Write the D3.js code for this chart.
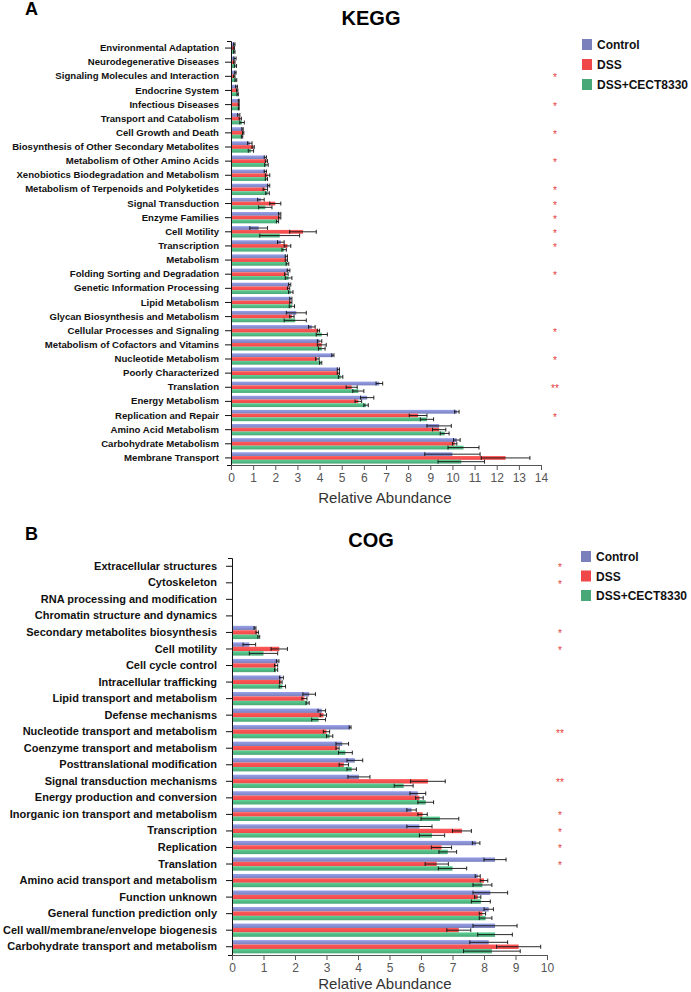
<!DOCTYPE html>
<html>
<head>
<meta charset="utf-8">
<script src="https://cdn.jsdelivr.net/npm/d3@7"></script>
<style>
  body { margin: 0; background: #fff; }
  text { font-family: Arial, "Liberation Sans", sans-serif; }
</style>
</head>
<body>
<svg id="chart" width="691" height="992"></svg>
<script>
// ---- KEGG data ----
const keggCategories = [
  "Environmental Adaptation", "Neurodegenerative Diseases", "Signaling Molecules and Interaction",
  "Endocrine System", "Infectious Diseases", "Transport and Catabolism", "Cell Growth and Death",
  "Biosynthesis of Other Secondary Metabolites", "Metabolism of Other Amino Acids",
  "Xenobiotics Biodegradation and Metabolism", "Metabolism of Terpenoids and Polyketides",
  "Signal Transduction", "Enzyme Families", "Cell Motility", "Transcription", "Metabolism",
  "Folding Sorting and Degradation", "Genetic Information Processing", "Lipid Metabolism",
  "Glycan Biosynthesis and Metabolism", "Cellular Processes and Signaling",
  "Metabolism of Cofactors and Vitamins", "Nucleotide Metabolism", "Poorly Characterized",
  "Translation", "Energy Metabolism", "Replication and Repair", "Amino Acid Metabolism",
  "Carbohydrate Metabolism", "Membrane Transport"
];
const keggControl = [0.15, 0.18, 0.2, 0.25, 0.35, 0.35, 0.52, 0.85, 1.55, 1.55, 1.7, 1.35, 2.2, 1.25, 2.25,
  2.5, 2.6, 2.65, 2.7, 2.95, 3.65, 4.0, 4.6, 4.85, 6.7, 6.15, 10.2, 9.4, 10.2, 10.0];
const keggControlErr = [0.03, 0.05, 0.03, 0.04, 0.02, 0.05, 0.03, 0.1, 0.05, 0.05, 0.05, 0.15, 0.05, 0.4, 0.15,
  0.05, 0.06, 0.05, 0.05, 0.45, 0.15, 0.1, 0.05, 0.05, 0.15, 0.3, 0.1, 0.55, 0.15, 1.25];
const keggDSS = [0.13, 0.15, 0.15, 0.28, 0.35, 0.42, 0.55, 1.0, 1.6, 1.65, 1.55, 2.0, 2.2, 3.25, 2.55,
  2.5, 2.5, 2.6, 2.7, 2.75, 3.95, 4.1, 3.9, 4.85, 5.45, 5.75, 8.45, 9.4, 10.1, 12.4];
const keggDSSErr = [0.03, 0.03, 0.03, 0.03, 0.02, 0.05, 0.03, 0.05, 0.05, 0.1, 0.1, 0.25, 0.05, 0.6, 0.15,
  0.05, 0.08, 0.05, 0.05, 0.1, 0.05, 0.2, 0.08, 0.05, 0.25, 0.15, 0.4, 0.3, 0.1, 1.1];
const keggCECT = [0.15, 0.2, 0.22, 0.3, 0.35, 0.5, 0.5, 0.9, 1.6, 1.6, 1.65, 1.55, 2.1, 2.2, 2.4,
  2.55, 2.6, 2.7, 2.75, 2.9, 4.1, 4.1, 4.05, 4.95, 5.75, 6.1, 8.85, 9.65, 10.5, 10.4];
const keggCECTErr = [0.03, 0.05, 0.04, 0.03, 0.02, 0.1, 0.03, 0.12, 0.08, 0.05, 0.08, 0.3, 0.05, 0.9, 0.1,
  0.06, 0.15, 0.1, 0.12, 0.5, 0.25, 0.15, 0.05, 0.1, 0.25, 0.1, 0.3, 0.2, 0.7, 1.05];
const keggSig = ["", "", "*", "", "*", "", "*", "", "*", "", "*", "*", "*", "*", "*",
  "", "*", "", "", "", "*", "", "*", "", "**", "", "*", "", "", ""];
const keggTicks = d3.range(0, 15);

// ---- COG data ----
const cogCategories = [
  "Extracellular structures", "Cytoskeleton", "RNA processing and modification",
  "Chromatin structure and dynamics", "Secondary metabolites biosynthesis", "Cell motility",
  "Cell cycle control", "Intracellular trafficking", "Lipid transport and metabolism",
  "Defense mechanisms", "Nucleotide transport and metabolism", "Coenzyme transport and metabolism",
  "Posttranslational modification", "Signal transduction mechanisms", "Energy production and conversion",
  "Inorganic ion transport and metabolism", "Transcription", "Replication", "Translation",
  "Amino acid transport and metabolism", "Function unknown", "General function prediction only",
  "Cell wall/membrane/envelope biogenesis", "Carbohydrate transport and metabolism"
];
const cogControl = [0.01, 0.01, 0.01, 0.01, 0.73, 0.55, 1.45, 1.57, 2.45, 2.85, 3.75, 3.5,
  3.9, 4.03, 5.9, 5.7, 5.95, 7.75, 8.35, 7.8, 8.2, 8.15, 8.35, 8.15];
const cogControlErr = [0, 0, 0, 0, 0.03, 0.2, 0.04, 0.06, 0.2, 0.12, 0.03, 0.2,
  0.25, 0.35, 0.25, 0.15, 0.4, 0.12, 0.35, 0.08, 0.55, 0.15, 0.7, 0.6];
const cogDSS = [0.01, 0.01, 0.01, 0.01, 0.8, 1.5, 1.4, 1.55, 2.3, 2.9, 3.0, 3.35,
  3.55, 6.22, 5.95, 6.05, 7.3, 6.65, 6.5, 8.0, 7.8, 7.95, 7.2, 9.1];
const cogDSSErr = [0, 0, 0, 0, 0.04, 0.26, 0.05, 0.04, 0.08, 0.1, 0.1, 0.05,
  0.15, 0.55, 0.12, 0.15, 0.3, 0.32, 0.37, 0.12, 0.1, 0.1, 0.38, 0.7];
const cogCECT = [0.01, 0.01, 0.01, 0.01, 0.85, 1.0, 1.4, 1.6, 2.4, 2.75, 3.1, 3.6,
  3.8, 5.45, 6.15, 6.6, 6.35, 6.85, 7.0, 7.95, 7.9, 8.05, 8.35, 8.25];
const cogCECTErr = [0, 0, 0, 0, 0.03, 0.45, 0.05, 0.1, 0.05, 0.22, 0.1, 0.22,
  0.15, 0.3, 0.25, 0.6, 0.4, 0.28, 0.45, 0.3, 0.3, 0.2, 0.55, 0.9];
const cogSig = ["*", "*", "", "", "*", "*", "", "", "", "", "**", "", "", "**", "",
  "*", "*", "*", "*", "", "", "", "", ""];
const cogTicks = d3.range(0, 11);

const groups = ["Control", "DSS", "DSS+CECT8330"];
const colors = ["#7a80bc", "#f04848", "#49a877"];

const svg = d3.select("#chart");

// light highlight on each bar colour
const defs = svg.append("defs");
colors.forEach((c, i) => {
  const g = defs.append("linearGradient")
    .attr("id", "grad" + i)
    .attr("x1", 0).attr("y1", 0).attr("x2", 0).attr("y2", 1);
  g.append("stop").attr("offset", "0%").attr("stop-color", d3.color(c).brighter(0.6));
  g.append("stop").attr("offset", "100%").attr("stop-color", c);
});

function drawPanel(opt) {
  const x = d3.scaleLinear().domain([0, opt.max]).range([opt.x0, opt.x1]);
  const y = d3.scaleBand().domain(opt.categories).range([opt.y0, opt.y1]).paddingInner(0.2).paddingOuter(0.1);
  const sub = d3.scaleBand().domain(groups).range([0, y.bandwidth()]);
  const g = svg.append("g");

  const series = [
    { vals: opt.control, errs: opt.controlErr },
    { vals: opt.dss, errs: opt.dssErr },
    { vals: opt.cect, errs: opt.cectErr }
  ];

  series.forEach((s, si) => {
    const rows = opt.categories.map((c, i) => ({ cat: c, v: s.vals[i], e: s.errs[i] }));
    const yy = d => y(d.cat) + sub(groups[si]);

    g.append("g").selectAll("rect")
      .data(rows)
      .join("rect")
      .attr("x", x(0))
      .attr("y", yy)
      .attr("width", d => x(d.v) - x(0))
      .attr("height", sub.bandwidth())
      .attr("fill", "url(#grad" + si + ")");

    const eb = g.append("g")
      .attr("stroke", "#111")
      .attr("stroke-width", 0.9)
      .selectAll("g")
      .data(rows.filter(d => d.e > 0))
      .join("g");
    const mid = d => yy(d) + sub.bandwidth() / 2;
    eb.append("line")
      .attr("x1", d => x(d.v - d.e)).attr("x2", d => x(d.v + d.e))
      .attr("y1", mid).attr("y2", mid);
    [-1, 1].forEach(sgn => {
      eb.append("line")
        .attr("x1", d => x(d.v + sgn * d.e)).attr("x2", d => x(d.v + sgn * d.e))
        .attr("y1", d => mid(d) - 2).attr("y2", d => mid(d) + 2);
    });
  });

  // axes
  const yAxis = g.append("g")
    .attr("transform", "translate(" + opt.x0 + ",0)")
    .call(d3.axisLeft(y).tickSize(6).tickSizeOuter(4).tickPadding(opt.labelPad));
  yAxis.selectAll("text")
    .attr("font-size", opt.labelSize)
    .attr("font-weight", "bold")
    .attr("fill", "#111");
  yAxis.selectAll("path, line").attr("stroke", "#111");

  const xAxis = g.append("g")
    .attr("transform", "translate(0," + opt.y1 + ")")
    .call(d3.axisBottom(x).tickValues(opt.ticks).tickSize(5).tickSizeOuter(0).tickFormat(d3.format("d")));
  xAxis.selectAll("text").attr("font-size", 12).attr("fill", "#555");
  xAxis.selectAll("path, line").attr("stroke", "#555");

  g.append("text")
    .attr("x", 385).attr("y", opt.y1 + opt.xTitleGap)
    .attr("text-anchor", "middle")
    .attr("font-size", 15)
    .attr("fill", "#333")
    .text("Relative Abundance");

  // significance marks
  g.append("g").selectAll("text")
    .data(opt.categories.map((c, i) => ({ cat: c, s: opt.sig[i] })).filter(d => d.s))
    .join("text")
    .attr("x", opt.starX)
    .attr("y", d => y(d.cat) + y.bandwidth() / 2 + 5)
    .attr("text-anchor", "middle")
    .attr("font-size", 10)
    .attr("fill", "#e53b3b")
    .text(d => d.s);

  // titles
  g.append("text").attr("x", 25).attr("y", opt.letterY)
    .attr("font-size", 18).attr("font-weight", "bold").text(opt.letter);
  g.append("text").attr("x", 371).attr("y", opt.titleY)
    .attr("text-anchor", "middle")
    .attr("font-size", 20).attr("font-weight", "bold").text(opt.title);

  // legend
  const lg = g.append("g").attr("transform", "translate(" + opt.legendX + "," + opt.legendY + ")");
  groups.forEach((name, i) => {
    lg.append("rect").attr("x", 0).attr("y", i * opt.legendStep)
      .attr("width", 10).attr("height", 11).attr("fill", colors[i]);
    lg.append("text").attr("x", 15).attr("y", i * opt.legendStep + 10)
      .attr("font-size", 12).attr("font-weight", "bold").attr("fill", "#111").text(name);
  });
}

drawPanel({
  categories: keggCategories,
  control: keggControl, controlErr: keggControlErr,
  dss: keggDSS, dssErr: keggDSSErr,
  cect: keggCECT, cectErr: keggCECTErr,
  sig: keggSig, ticks: keggTicks, max: 14,
  x0: 231, x1: 541, y0: 41, y1: 465,
  labelSize: 9.6, labelPad: 6, xTitleGap: 38, starX: 555,
  letter: "A", letterY: 15, title: "KEGG", titleY: 25,
  legendX: 582, legendY: 39, legendStep: 20
});

drawPanel({
  categories: cogCategories,
  control: cogControl, controlErr: cogControlErr,
  dss: cogDSS, dssErr: cogDSSErr,
  cect: cogCECT, cectErr: cogCECTErr,
  sig: cogSig, ticks: cogTicks, max: 10,
  x0: 232, x1: 547, y0: 558, y1: 955,
  labelSize: 11, labelPad: 9, xTitleGap: 34, starX: 560,
  letter: "B", letterY: 540, title: "COG", titleY: 547,
  legendX: 581, legendY: 551, legendStep: 19.5
});
</script>
</body>
</html>
